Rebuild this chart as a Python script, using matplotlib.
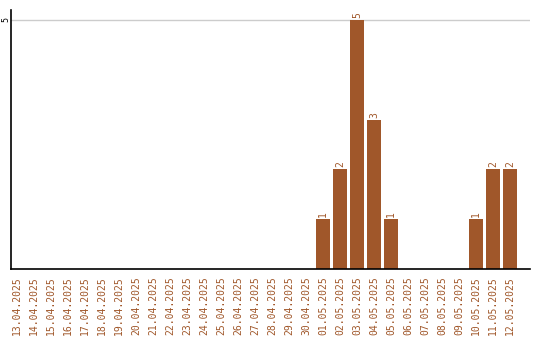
import matplotlib
matplotlib.use("Agg")
import matplotlib.pyplot as plt

dates = ["13.04.2025", "14.04.2025", "15.04.2025", "16.04.2025", "17.04.2025",
         "18.04.2025", "19.04.2025", "20.04.2025", "21.04.2025", "22.04.2025",
         "23.04.2025", "24.04.2025", "25.04.2025", "26.04.2025", "27.04.2025",
         "28.04.2025", "29.04.2025", "30.04.2025", "01.05.2025", "02.05.2025",
         "03.05.2025", "04.05.2025", "05.05.2025", "06.05.2025", "07.05.2025",
         "08.05.2025", "09.05.2025", "10.05.2025", "11.05.2025", "12.05.2025"]
counts = [0, 0, 0, 0, 0, 0, 0, 0, 0, 0,
          0, 0, 0, 0, 0, 0, 0, 0, 1, 2,
          5, 3, 1, 0, 0, 0, 0, 1, 2, 2]

color = "#A0572A"
fig = plt.figure(figsize=(5.4, 3.4), dpi=100)
ax = fig.add_axes([11/540, 1-269/340, 519/540, 259/340])
x = list(range(len(dates)))
ax.bar(x, counts, width=0.82, color=color, zorder=2)
for xi, v in zip(x, counts):
    if v > 0:
        ax.text(xi, v + 0.04, str(v), rotation=90, ha="center", va="bottom",
                color=color, fontsize=7, family="DejaVu Sans Mono")
ax.set_xlim(-0.35, 30.18)
ax.set_ylim(0, 5.2)
ax.set_yticks([5])
ax.set_yticklabels(["5"], rotation=90, va="center", ha="center", fontsize=6,
                   family="DejaVu Sans Mono")
ax.yaxis.grid(True, color="#cccccc", linewidth=1, zorder=0)
ax.set_xticks(x)
ax.set_xticklabels(dates, rotation=90, color=color, fontsize=7, family="DejaVu Sans Mono")
ax.tick_params(axis="x", length=0, pad=5)
ax.tick_params(axis="y", length=0, pad=4)
for s in ["top", "right"]:
    ax.spines[s].set_visible(False)
ax.spines["left"].set_color("black")
ax.spines["bottom"].set_color("black")
ax.spines["left"].set_linewidth(1.2)
ax.spines["bottom"].set_linewidth(1.2)
fig.savefig("out.png", dpi=100)
